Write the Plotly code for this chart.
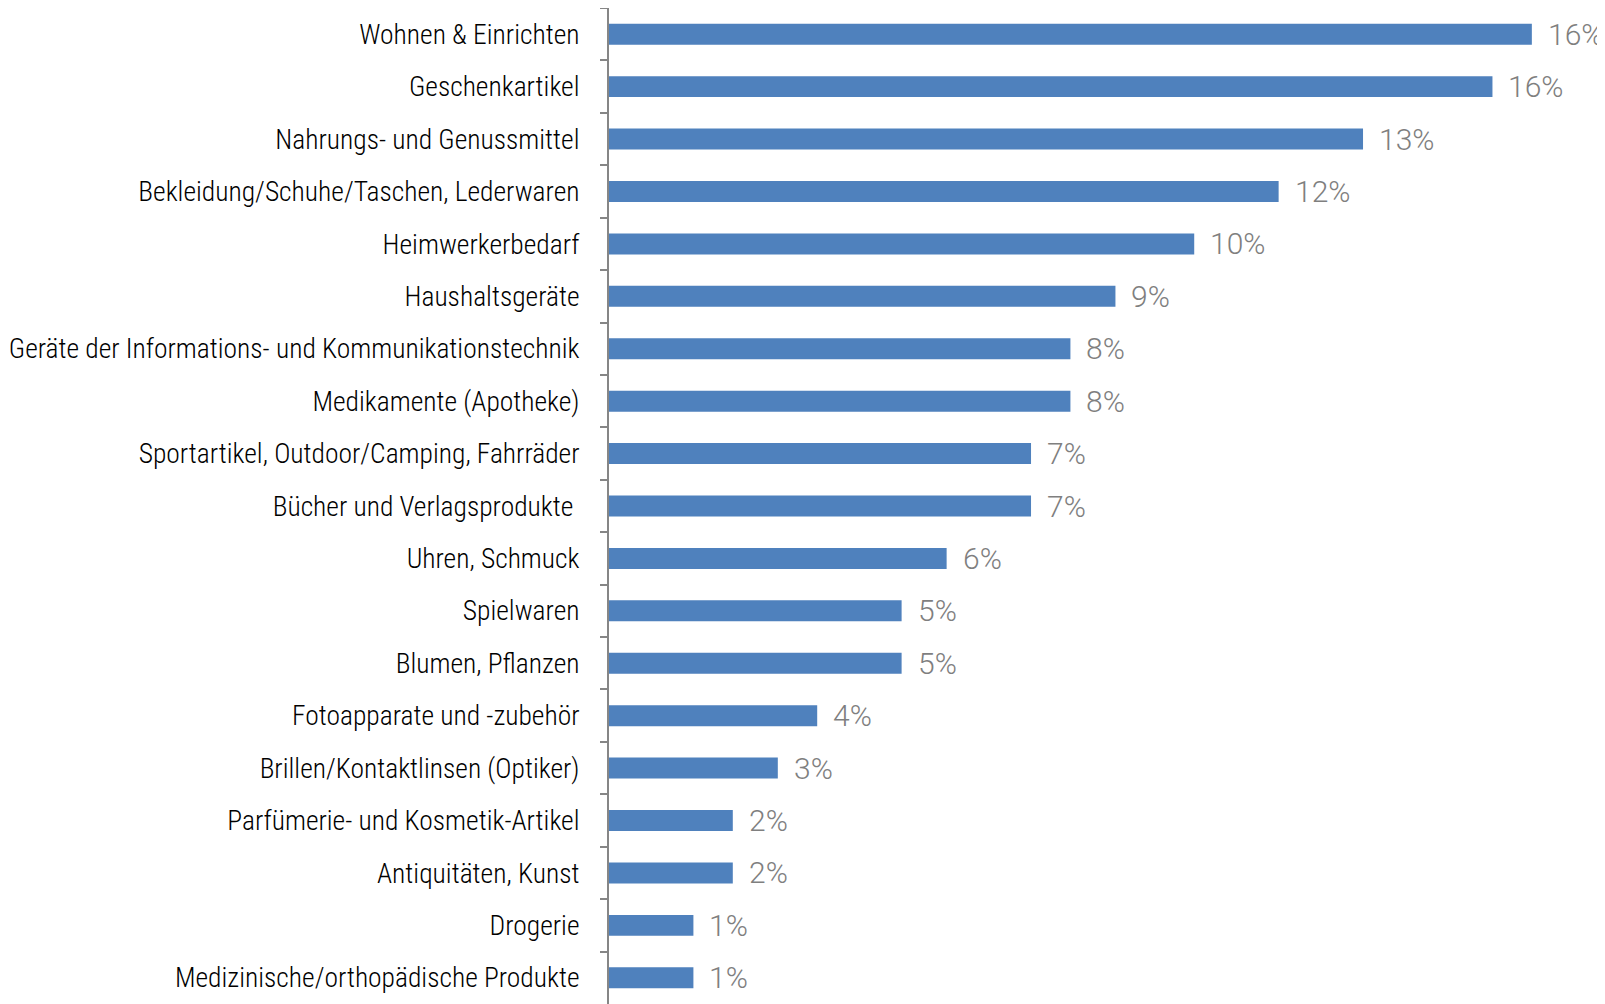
import plotly.graph_objects as go

categories = [
    "Wohnen & Einrichten",
    "Geschenkartikel",
    "Nahrungs- und Genussmittel",
    "Bekleidung/Schuhe/Taschen, Lederwaren",
    "Heimwerkerbedarf",
    "Haushaltsgeräte",
    "Geräte der Informations- und Kommunikationstechnik",
    "Medikamente (Apotheke)",
    "Sportartikel, Outdoor/Camping, Fahrräder",
    "Bücher und Verlagsprodukte ",
    "Uhren, Schmuck",
    "Spielwaren",
    "Blumen, Pflanzen",
    "Fotoapparate und -zubehör",
    "Brillen/Kontaktlinsen (Optiker)",
    "Parfümerie- und Kosmetik-Artikel",
    "Antiquitäten, Kunst",
    "Drogerie",
    "Medizinische/orthopädische Produkte",
]
values = [16.4, 15.7, 13.4, 11.9, 10.4, 9.0, 8.2, 8.2, 7.5, 7.5,
          6.0, 5.2, 5.2, 3.7, 3.0, 2.2, 2.2, 1.5, 1.5]
value_labels = ["16%", "16%", "13%", "12%", "10%", "9%", "8%", "8%", "7%", "7%",
                "6%", "5%", "5%", "4%", "3%", "2%", "2%", "1%", "1%"]

fig = go.Figure()
fig.add_trace(go.Bar(
    y=categories, x=values, orientation="h",
    marker=dict(color="#4f81bd", line=dict(width=0)),
    hoverinfo="skip",
))

for c, v, t in zip(categories, values, value_labels):
    fig.add_annotation(
        x=v, y=c, text=t, showarrow=False, xanchor="left", yanchor="middle",
        xshift=14, font=dict(family="Roboto", weight=300, size=30, color="#7f7f7f"),
    )

fig.update_layout(
    width=1597, height=996,
    margin=dict(l=601, r=0, t=0, b=0),
    plot_bgcolor="white", paper_bgcolor="white",
    bargap=0.6, showlegend=False,
    xaxis=dict(range=[0, 17.7], visible=False, fixedrange=True),
    yaxis=dict(
        autorange="reversed", type="category", automargin=False,
        showline=True, linecolor="#868686", linewidth=2,
        ticks="outside", tickson="boundaries", ticklen=7, tickcolor="#868686", tickwidth=2,
        ticklabelstandoff=22,
        tickfont=dict(family="Liberation Sans Narrow, Arial Narrow, Roboto Condensed, Liberation Sans",
                      size=27.5, weight=300, color="#000000"),
        showgrid=False, zeroline=False,
    ),
)

fig.write_html("out.html")
